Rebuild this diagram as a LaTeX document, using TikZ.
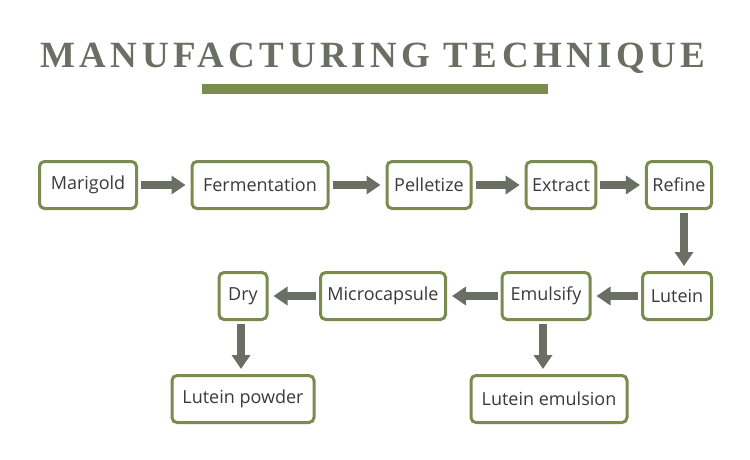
\documentclass[tikz,border=0pt]{standalone}
\usepackage{fontspec}
\setsansfont{Open Sans}
\newfontfamily\titlefont[LetterSpace=12]{Liberation Serif}
\usetikzlibrary{arrows.meta, positioning}
\definecolor{leaf}{HTML}{7A8B50}
\definecolor{slate}{HTML}{6B6E62}
\definecolor{ink}{HTML}{3A3A3A}
\tikzset{stage/.style={draw=leaf, line width=3pt, rounded corners=5pt, fill=white,
    minimum height=47pt, inner xsep=6pt, text=ink, font=\sffamily\fontsize{18}{21}\selectfont}}
\tikzset{flow/.style={draw=slate, line width=8pt, -{Triangle[length=14pt,width=18pt]},
    shorten <=3pt, shorten >=5pt}}

\begin{document}
\begin{tikzpicture}[x=1pt, y=-1pt]
\useasboundingbox (0,0) rectangle (750,460);
\node(title) [anchor=base, text=slate, font=\titlefont\bfseries\fontsize{37}{40}\selectfont] at (373,68) {MANUFACTURING TECHNIQUE};
\fill[leaf] (202,84) rectangle (548,94);
% top row
\node(marigold) [stage, minimum width=97pt] at (88,185) {Marigold};
\node(ferment) [stage, minimum width=136pt] at (260,185) {Fermentation};
\node(pellet) [stage, minimum width=84pt] at (429,185) {Pelletize};
\node(extract) [stage, minimum width=68pt] at (561,185) {Extract};
\node(refine) [stage, minimum width=65pt] at (679,185) {Refine};
% middle row
\node(lutein) [stage, minimum width=69pt] at (677,296) {Lutein};
\node(emulsify) [stage, minimum width=88pt] at (546,296) {Emulsify};
\node(micro) [stage, minimum width=125pt] at (383,296) {Microcapsule};
\node(dry) [stage, minimum width=48pt] at (243,296) {Dry};
% products
\node(powder) [stage, minimum width=142pt] at (243,399) {Lutein powder};
\node(emulsion) [stage, minimum width=156pt] at (549,399) {Lutein emulsion};
\draw[flow] (marigold) -- (ferment);
\draw[flow] (ferment) -- (pellet);
\draw[flow] (pellet) -- (extract);
\draw[flow] (extract) -- (refine);
\draw[flow] (refine.south -| 684,0) -- (lutein.north -| 684,0);
\draw[flow] (lutein) -- (emulsify);
\draw[flow] (emulsify) -- (micro);
\draw[flow] (micro) -- (dry);
\draw[flow] (dry.south -| 241,0) -- (powder.north -| 241,0);
\draw[flow] (emulsify.south -| 543,0) -- (emulsion.north -| 543,0);
\end{tikzpicture}
\end{document}
